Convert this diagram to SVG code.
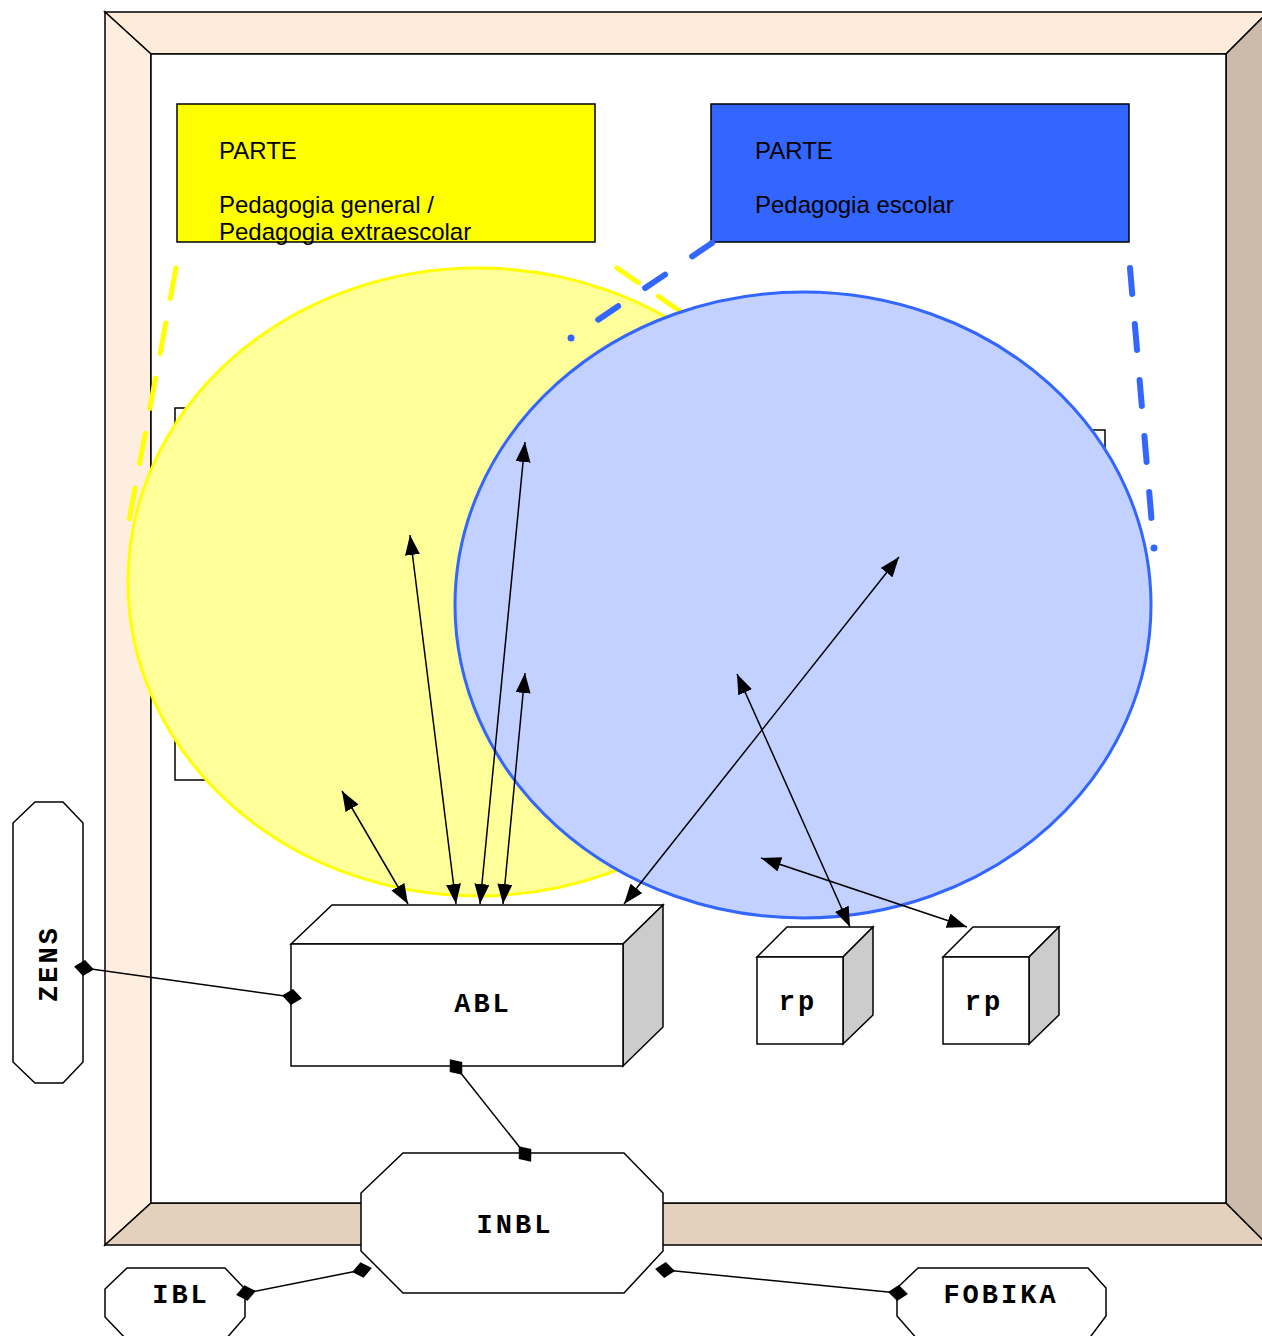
<svg xmlns="http://www.w3.org/2000/svg" width="1262" height="1336" viewBox="0 0 1262 1336">
<style>
.edge{stroke:#000;stroke-width:1.5;fill:none}
.arr{stroke:#000;stroke-width:1.5;fill:none;marker-start:url(#ah);marker-end:url(#ah)}
.con{stroke:#000;stroke-width:1.5;fill:none;marker-start:url(#dm);marker-end:url(#dm)}
.box{fill:#fff;stroke:#000;stroke-width:1.5;stroke-linejoin:miter}
.side{fill:#ccc;stroke:#000;stroke-width:1.5}
.lbl{font-family:"Liberation Mono","Courier New",monospace;font-weight:bold;font-size:27px;letter-spacing:3px;text-anchor:middle;fill:#000}
.ptxt{font-family:"Liberation Sans",Arial,sans-serif;font-size:24px;fill:#000}
.ydash{stroke:#ffff00;stroke-width:5;stroke-linecap:round;fill:none}
.bdash{stroke:#3366ff;stroke-width:6;stroke-linecap:round;fill:none}
</style>
<defs>
<marker id="ah" viewBox="0 0 20 15" refX="20" refY="7.5" markerWidth="20" markerHeight="15" markerUnits="userSpaceOnUse" orient="auto-start-reverse">
<path d="M0,0 L20,7.5 L0,15 z" fill="#000"/>
</marker>
<marker id="dm" viewBox="0 0 20 16" refX="10" refY="8" markerWidth="20" markerHeight="16" markerUnits="userSpaceOnUse" orient="auto">
<path d="M0,8 L10,0 L20,8 L10,16 z" fill="#000"/>
</marker>
</defs>

<g id="frame">
<polygon points="105,12 1268,12 1226,54 151,54" fill="#feebda" stroke="#000" stroke-width="1.5"/>
<polygon points="105,12 151,54 151,1203 105,1245" fill="#feeee0" stroke="#000" stroke-width="1.5"/>
<polygon points="105,1245 151,1203 1226,1203 1268,1245" fill="#e4d1bd" stroke="#000" stroke-width="1.5"/>
<polygon points="1268,12 1226,54 1226,1203 1268,1245" fill="#ccbaab" stroke="#000" stroke-width="1.5"/>
<rect x="151" y="54" width="1075" height="1149" fill="#fff" stroke="#000" stroke-width="1.5"/>
</g>

<g id="hidden-rect-left"><rect x="175" y="408" width="300" height="372" fill="#fff" stroke="#000" stroke-width="1.5"/></g>
<g id="hidden-rect-right"><rect x="800" y="430" width="305" height="300" fill="#fff" stroke="#000" stroke-width="1.5"/></g>

<g id="parte-general">
<rect x="177" y="104" width="418" height="138" fill="#ffff00" stroke="#000" stroke-width="1.5"/>
<text class="ptxt" x="219" y="159">PARTE</text>
<text class="ptxt" x="219" y="213">Pedagogia general /</text>
<text class="ptxt" x="219" y="240">Pedagogia extraescolar</text>
</g>

<g id="parte-escolar">
<rect x="711" y="104" width="418" height="138" fill="#3366ff" stroke="#000" stroke-width="1.5"/>
<text class="ptxt" x="755" y="159">PARTE</text>
<text class="ptxt" x="755" y="213">Pedagogia escolar</text>
</g>

<g id="area-general">
<ellipse cx="478" cy="582" rx="350" ry="314" fill="#ffff99" stroke="#ffff00" stroke-width="3"/>
<line class="ydash" x1="176" y1="268" x2="129" y2="521" stroke-dasharray="31 25"/>
<line class="ydash" x1="617" y1="268" x2="690" y2="318" stroke-dasharray="26 24"/>
</g>

<g id="area-escolar">
<ellipse cx="803" cy="605" rx="348" ry="313" fill="#c2d1ff" stroke="#3366ff" stroke-width="3"/>
<line class="bdash" x1="712" y1="243" x2="571" y2="338" stroke-dasharray="24 32.6 24 32.6 24 32.6 0 300"/>
<circle cx="571" cy="338" r="3.5" fill="#3366ff"/>
<line class="bdash" x1="1130" y1="268" x2="1154" y2="548" stroke-dasharray="26 30.2 26 30.2 26 30.2 26 30.2 26 30.2 0 400"/>
<circle cx="1154" cy="548" r="3.5" fill="#3366ff"/>
</g>

<g id="connectors">
<line class="arr" x1="342" y1="791" x2="408" y2="904"/>
<line class="arr" x1="410" y1="535" x2="456" y2="904"/>
<line class="arr" x1="525" y1="442" x2="480" y2="904"/>
<line class="arr" x1="525" y1="673" x2="503" y2="904"/>
<line class="arr" x1="899" y1="557" x2="624" y2="904"/>
<line class="arr" x1="737" y1="674" x2="850" y2="927"/>
<line class="arr" x1="761" y1="858" x2="967" y2="927"/>
</g>

<g id="ABL">
<polygon class="box" points="291,944 332,905 663,905 623,944"/>
<polygon class="side" points="623,944 663,905 663,1027 623,1066"/>
<rect class="box" x="291" y="944" width="332" height="122"/>
<text class="lbl" x="483" y="1012">ABL</text>
</g>

<g id="rp1">
<polygon class="box" points="757,957 787,927 873,927 843,957"/>
<polygon class="side" points="843,957 873,927 873,1015 843,1044"/>
<rect class="box" x="757" y="957" width="86" height="87"/>
<text class="lbl" x="798" y="1010">rp</text>
</g>

<g id="rp2">
<polygon class="box" points="943,957 973,927 1059,927 1029,957"/>
<polygon class="side" points="1029,957 1059,927 1059,1015 1029,1044"/>
<rect class="box" x="943" y="957" width="86" height="87"/>
<text class="lbl" x="984" y="1010">rp</text>
</g>

<g id="ZENS">
<polygon class="box" points="35,802 63,802 83,823 83,1062 63,1083 35,1083 13,1062 13,823"/>
<text class="lbl" transform="translate(57,963.5) rotate(-90)">ZENS</text>
</g>

<g id="INBL">
<polygon class="box" points="403,1153 624,1153 663,1193 663,1251 624,1293 403,1293 361,1251 361,1193"/>
<text class="lbl" x="515" y="1233">INBL</text>
</g>

<g id="IBL">
<polygon class="box" points="127,1268 225,1268 245,1289 245,1317 225,1340 127,1340 105,1317 105,1289"/>
<text class="lbl" x="181" y="1303">IBL</text>
</g>

<g id="FOBIKA">
<polygon class="box" points="918,1268 1088,1268 1106,1288 1106,1316 1088,1340 918,1340 897,1316 897,1288"/>
<text class="lbl" x="1001" y="1303">FOBIKA</text>
</g>

<g id="links">
<line class="con" x1="84" y1="968" x2="292" y2="997"/>
<line class="con" x1="456" y1="1067" x2="525" y2="1154"/>
<line class="con" x1="362" y1="1270" x2="246" y2="1293"/>
<line class="con" x1="665" y1="1270" x2="898" y2="1293"/>
</g>
</svg>
